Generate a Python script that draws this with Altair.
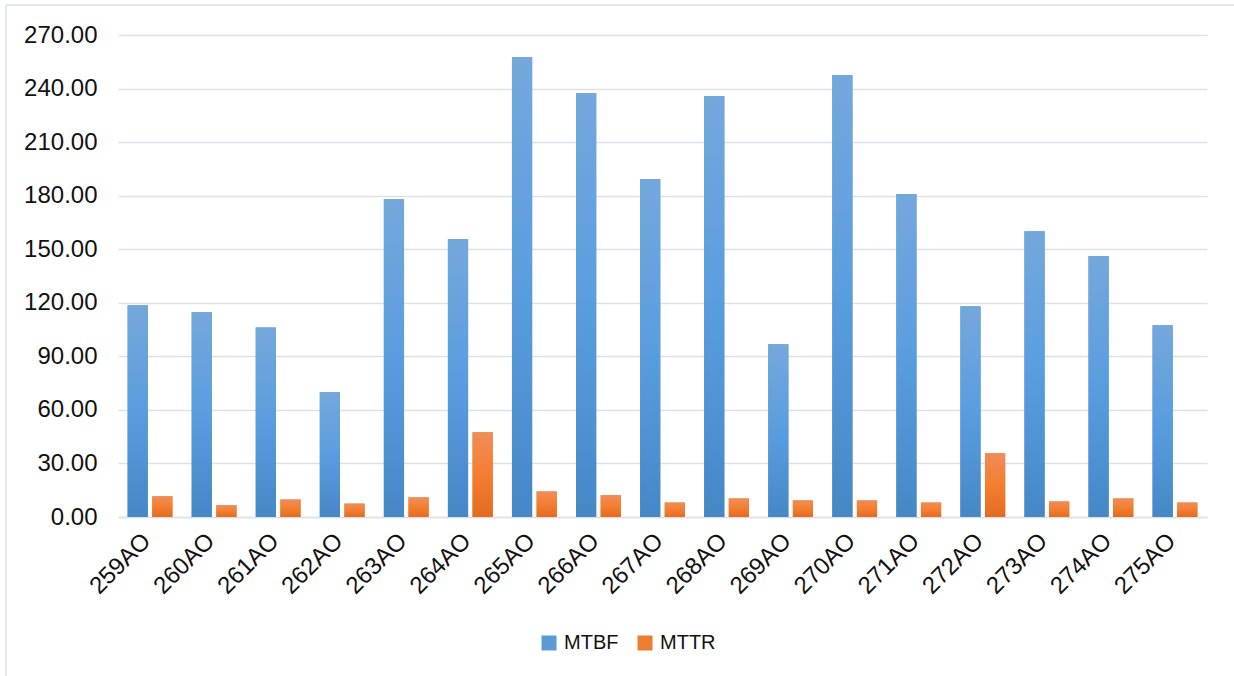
import altair as alt
import pandas as pd

categories = ["259AO", "260AO", "261AO", "262AO", "263AO", "264AO", "265AO", "266AO", "267AO",
              "268AO", "269AO", "270AO", "271AO", "272AO", "273AO", "274AO", "275AO"]
mtbf = [118.6, 114.7, 106.2, 69.9, 178.1, 155.7, 257.6, 237.5, 189.3,
        235.8, 96.8, 247.6, 181.0, 118.0, 160.1, 146.2, 107.4]
mttr = [11.6, 6.6, 9.8, 7.5, 11.0, 47.5, 14.3, 12.2, 8.1,
        10.4, 9.3, 9.3, 8.1, 35.7, 8.7, 10.4, 8.1]
series = ["MTBF", "MTTR"]
y_ticks = [0, 30, 60, 90, 120, 150, 180, 210, 240, 270]

rows = []
for c, a, b in zip(categories, mtbf, mttr):
    rows.append({"cat": c, "series": "MTBF", "value": a})
    rows.append({"cat": c, "series": "MTTR", "value": b})
df = pd.DataFrame(rows)

FONT = "Liberation Sans"
GRID = "#dde1e7"

x_enc = alt.X("cat:N", sort=categories, title=None,
              scale=alt.Scale(paddingInner=0.3, paddingOuter=0.15),
              axis=alt.Axis(labelAngle=-45, labelAlign="right", labelBaseline="middle",
                            labelFontSize=24, labelFont=FONT, labelColor="#111111",
                            labelPadding=20, labelOffset=-3, ticks=False, domain=True,
                            domainColor=GRID, domainWidth=1.5, grid=False))
xoff_enc = alt.XOffset("series:N", scale=alt.Scale(domain=series, paddingInner=0.18))
y_enc = alt.Y("value:Q", title=None,
              scale=alt.Scale(domain=[0, 270], nice=False),
              axis=alt.Axis(values=y_ticks, format=".2f", labelFontSize=24, labelFont=FONT,
                            labelColor="#111111", labelPadding=21, ticks=False, domain=False,
                            grid=True, gridColor=GRID, gridWidth=1.5))

base = alt.Chart(df).encode(x=x_enc, xOffset=xoff_enc, y=y_enc)

flat = base.mark_bar().encode(
    color=alt.Color("series:N",
                    scale=alt.Scale(domain=series, range=["#5b9bd5", "#ed7d31"]),
                    legend=alt.Legend(title=None, orient="none", legendX=421, legendY=598,
                                      direction="horizontal", symbolType="square",
                                      symbolSize=225, symbolStrokeWidth=0,
                                      labelFontSize=20, labelFont=FONT, labelColor="#111111",
                                      labelOffset=5, columnPadding=16))
)

blue_grad = alt.Gradient(gradient="linear", x1=0, x2=0, y1=0, y2=1,
                         stops=[alt.GradientStop(color="#74a8dc", offset=0),
                                alt.GradientStop(color="#5a9ddf", offset=0.5),
                                alt.GradientStop(color="#4687c6", offset=1)])
orange_grad = alt.Gradient(gradient="linear", x1=0, x2=0, y1=0, y2=1,
                           stops=[alt.GradientStop(color="#ef8d59", offset=0),
                                  alt.GradientStop(color="#f47e30", offset=0.5),
                                  alt.GradientStop(color="#e46a1f", offset=1)])

blue = base.mark_bar(fill=blue_grad).transform_filter(alt.datum.series == "MTBF")
orange = base.mark_bar(fill=orange_grad).transform_filter(alt.datum.series == "MTTR")

frame_data = alt.Data(values=[{"k": 1}])
left_border = alt.Chart(frame_data).mark_rule(color=GRID, strokeWidth=1.5).encode(
    x=alt.value(-112), y=alt.value(-30), y2=alt.value(645))
top_border = alt.Chart(frame_data).mark_rule(color=GRID, strokeWidth=1.5).encode(
    x=alt.value(-112), x2=alt.value(1120), y=alt.value(-30))

chart = alt.layer(flat, blue, orange, left_border, top_border).properties(
    width=1089, height=482,
    autosize=alt.AutoSizeParams(type="none"),
    padding={"left": 118, "top": 35, "right": 27, "bottom": 159},
    background="white",
).configure_view(stroke=None)

chart.save("out.html", embed_options={"renderer": "svg", "actions": False})
